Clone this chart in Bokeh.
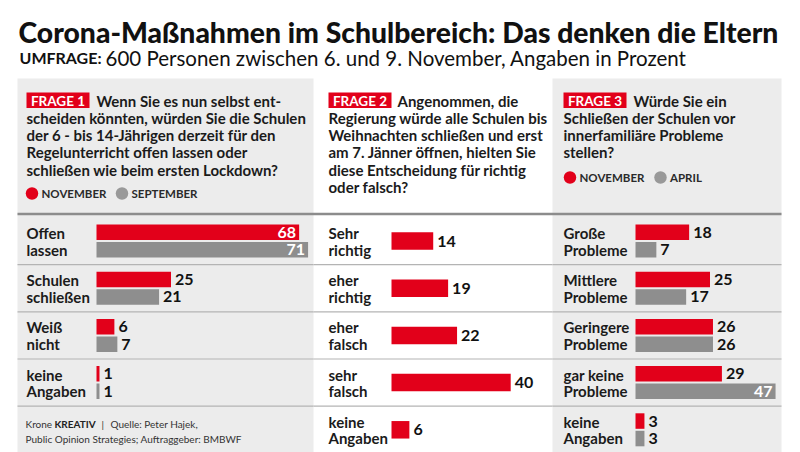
from bokeh.plotting import figure
from bokeh.models import Range1d
from bokeh.core.properties import value
from bokeh.embed import file_html
from bokeh.resources import INLINE

# ---------------- data ----------------
TITLE = "Corona-Maßnahmen im Schulbereich: Das denken die Eltern"
SUB_BOLD = "UMFRAGE:"
SUB_REST = "600 Personen zwischen 6. und 9. November, Angaben in Prozent"

q1_label = "FRAGE 1"
q1_text = ["Wenn Sie es nun selbst ent-",
           "scheiden könnten, würden Sie die Schulen",
           "der 6 - bis 14-Jährigen derzeit für den",
           "Regelunterricht offen lassen oder",
           "schließen wie beim ersten Lockdown?"]
q1_series = ["NOVEMBER", "SEPTEMBER"]
q1_cats = ["Offen\nlassen", "Schulen\nschließen", "Weiß\nnicht", "keine\nAngaben"]
q1_nov = [68, 25, 6, 1]
q1_sep = [71, 21, 7, 1]

q2_label = "FRAGE 2"
q2_text = ["Angenommen, die",
           "Regierung würde alle Schulen bis",
           "Weihnachten schließen und erst",
           "am 7. Jänner öffnen, hielten Sie",
           "diese Entscheidung für richtig",
           "oder falsch?"]
q2_cats = ["Sehr\nrichtig", "eher\nrichtig", "eher\nfalsch", "sehr\nfalsch", "keine\nAngaben"]
q2_vals = [14, 19, 22, 40, 6]

q3_label = "FRAGE 3"
q3_text = ["Würde Sie ein",
           "Schließen der Schulen vor",
           "innerfamiliäre Probleme",
           "stellen?"]
q3_series = ["NOVEMBER", "APRIL"]
q3_cats = ["Große\nProbleme", "Mittlere\nProbleme", "Geringere\nProbleme", "gar keine\nProbleme", "keine\nAngaben"]
q3_nov = [18, 25, 26, 29, 3]
q3_apr = [7, 17, 26, 47, 3]

footer_1 = ["Krone", "KREATIV", "|", "Quelle: Peter Hajek,"]
footer_2 = "Public Opinion Strategies; Auftraggeber: BMBWF"

# ---------------- style / layout ----------------
RED = "#e2001a"
GREY = "#8e8e8e"
PANEL_BG = "#ececec"
INK = "#1b1b1b"
FONT = value("Lato")
TFONT = value("Lato Black")

W, H = 800, 452
ROW0, PITCH = 240.5, 47.2
PX_PER_PCT = 2.98

p = figure(width=W, height=H, x_range=Range1d(0, W), y_range=Range1d(H, 0),
           output_backend="svg", toolbar_location=None, min_border=0,
           x_axis_location=None, y_axis_location=None)
p.grid.visible = False
p.outline_line_color = None
p.background_fill_color = "white"
p.border_fill_color = "white"

# panel backgrounds (panel 1 and 3 grey, 2 white)
panels = [(17, 313, True), (313, 552, False), (552, 781, True)]
for l, r, g in panels:
    if g:
        p.quad(left=[l], right=[r], top=[78], bottom=[460], fill_color=PANEL_BG, line_color=None)

# title + subtitle
p.text(x=[18], y=[31], text=[TITLE], text_font=TFONT, text_font_style="bold",
       text_font_size="28.3px", text_color="#111111", text_baseline="alphabetic")
p.text(x=[19], y=[57], text=[SUB_BOLD], text_font=FONT, text_font_style="bold",
       text_font_size="16px", text_color="#111111", text_baseline="alphabetic")
p.text(x=[105], y=[57], text=[SUB_REST], text_font=FONT, text_font_style="normal",
       text_font_size="20.5px", text_color="#111111", text_baseline="alphabetic")

# header separator line
p.segment(x0=[17], x1=[781], y0=[213.5], y1=[213.5], line_color="#8c8c8c", line_width=2.5)


def question(label, lines, box_x, text_x, first_y=100, step=17.3):
    p.quad(left=[box_x], right=[box_x + 63], top=[92], bottom=[107.5], fill_color=RED, line_color=None)
    p.text(x=[box_x + 31.5], y=[100], text=[label], text_font=FONT, text_font_style="bold",
           text_font_size="13.5px", text_color="white", text_align="center", text_baseline="middle")
    for i, ln in enumerate(lines):
        x = text_x if i == 0 else box_x
        p.text(x=[x], y=[first_y + i * step], text=[ln], text_font=FONT, text_font_style="bold",
               text_font_size="15px", text_color=INK, text_baseline="middle")


def legend(series, x0, y, x_second):
    p.scatter(x=[x0], y=[y], size=12.5, marker="circle", fill_color=RED, line_color=None)
    p.scatter(x=[x_second], y=[y], size=12.5, marker="circle", fill_color="#999999", line_color=None)
    p.text(x=[x0 + 9.5], y=[y], text=[series[0]], text_font=FONT, text_font_style="bold",
           text_font_size="11.5px", text_color="#2a2a2a", text_baseline="middle")
    p.text(x=[x_second + 9.5], y=[y], text=[series[1]], text_font=FONT, text_font_style="bold",
           text_font_size="11.5px", text_color="#2a2a2a", text_baseline="middle")


def row_labels(cats, x):
    for k, c in enumerate(cats):
        a, b = c.split("\n")
        yc = ROW0 + k * PITCH
        p.text(x=[x], y=[yc - 8], text=[a], text_font=FONT, text_font_style="bold",
               text_font_size="15px", text_color=INK, text_baseline="middle")
        p.text(x=[x], y=[yc + 8.5], text=[b], text_font=FONT, text_font_style="bold",
               text_font_size="15px", text_color=INK, text_baseline="middle")


def separators(l, r, n):
    ys = [ROW0 + (k + 0.5) * PITCH for k in range(n)]
    p.segment(x0=[l] * n, x1=[r] * n, y0=ys, y1=ys, line_color="#b4b4b4", line_width=1.2)


def bars(x0, panel_right, series_list, colors, heights, offsets):
    # sub-coordinates: x in percent, y in row index
    sub = p.subplot(x_source=Range1d(0, 100), x_target=Range1d(x0, x0 + 100 * PX_PER_PCT),
                    y_source=Range1d(0, 1), y_target=Range1d(ROW0, ROW0 + PITCH))
    for vals, col, h, off in zip(series_list, colors, heights, offsets):
        ys = [k + off / PITCH for k in range(len(vals))]
        sub.hbar(y=ys, left=0, right=vals, height=h / PITCH, fill_color=col, line_color=None)
        fits = [x0 + v * PX_PER_PCT + 24 <= panel_right for v in vals]
        outside = [v for v, f in zip(vals, fits) if f]
        oy = [y for y, f in zip(ys, fits) if f]
        inside = [v for v, f in zip(vals, fits) if not f]
        iy = [y for y, f in zip(ys, fits) if not f]
        if outside:
            sub.text(x=outside, y=oy, text=[str(v) for v in outside], x_offset=4,
                     text_font=FONT, text_font_style="bold", text_font_size="16px",
                     text_color="#111111", text_baseline="middle")
        if inside:
            sub.text(x=inside, y=iy, text=[str(v) for v in inside], x_offset=-3,
                     text_font=FONT, text_font_style="bold", text_font_size="16px",
                     text_color="white", text_align="right", text_baseline="middle")


# ---- panel 1 ----
question(q1_label, q1_text, 26, 96)
legend(q1_series, 31.5, 193, 121.5)
row_labels(q1_cats, 26)
separators(17, 313, 4)
bars(96, 313, [q1_nov, q1_sep], [RED, GREY], [15.5, 15.5], [-8.75, 8.75])
FS = "10px"
p.text(x=[25], y=[423], text=[footer_1[0]], text_font=FONT, text_font_size=FS,
       text_color="#333333", text_baseline="middle")
p.text(x=[54], y=[423], text=[footer_1[1]], text_font=FONT, text_font_style="bold",
       text_font_size=FS, text_color="#222222", text_baseline="middle")
p.text(x=[101], y=[423], text=[footer_1[2]], text_font=FONT, text_font_size=FS,
       text_color="#333333", text_baseline="middle")
p.text(x=[110], y=[423], text=[footer_1[3]], text_font=FONT, text_font_size=FS,
       text_color="#333333", text_baseline="middle")
p.text(x=[25], y=[438], text=[footer_2], text_font=FONT, text_font_size=FS,
       text_color="#333333", text_baseline="middle")

# ---- panel 2 ----
question(q2_label, q2_text, 328, 397)
row_labels(q2_cats, 328)
separators(313, 552, 4)
bars(391, 552, [q2_vals], [RED], [17.5], [0])

# ---- panel 3 ----
question(q3_label, q3_text, 563, 633)
legend(q3_series, 569.5, 177, 660)
row_labels(q3_cats, 563)
separators(552, 781, 4)
bars(635, 781, [q3_nov, q3_apr], [RED, GREY], [15.5, 15.5], [-8.75, 8.75])

open("out.html", "w").write(file_html(p, INLINE))
